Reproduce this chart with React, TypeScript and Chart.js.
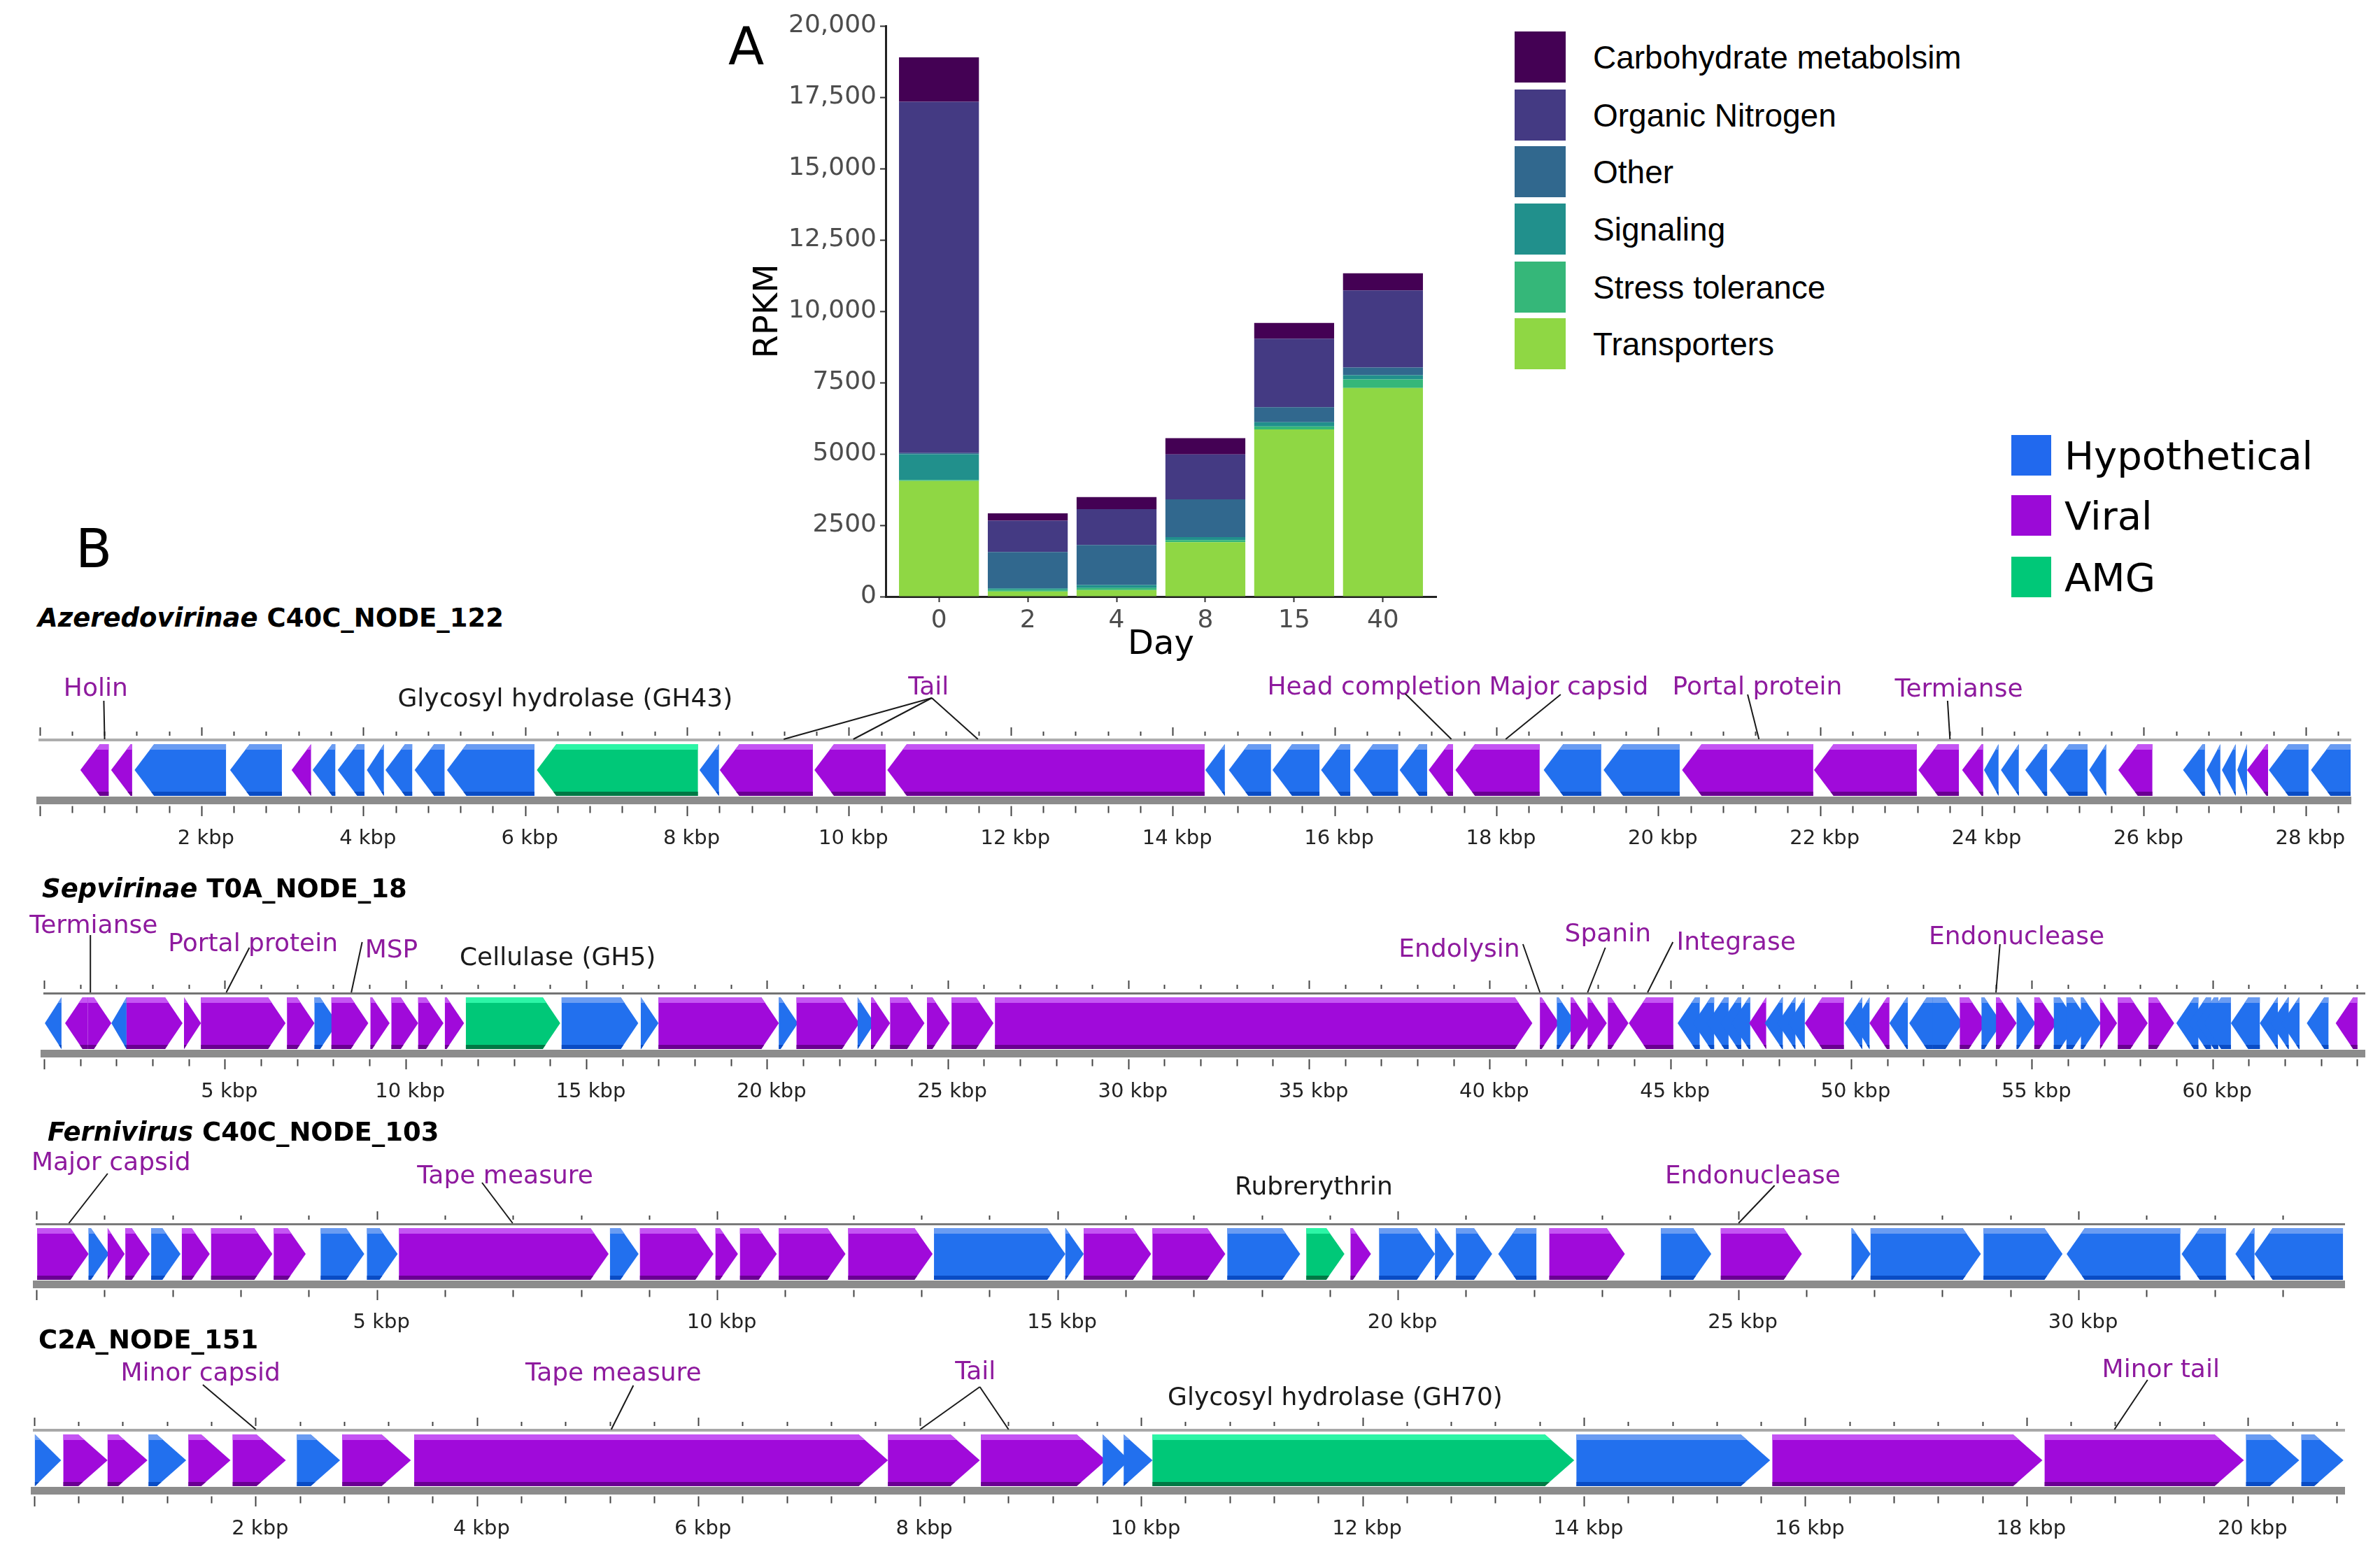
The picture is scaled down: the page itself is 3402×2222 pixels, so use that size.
import React, { useEffect, useRef } from 'react';
import { Chart, registerables } from 'chart.js';

Chart.register(...registerables);

// ---------------- Panel A data ----------------
const days = ['0', '2', '4', '8', '15', '40'];
const seriesNames = ['Transporters', 'Stress tolerance', 'Signaling', 'Other', 'Organic Nitrogen', 'Carbohydrate metabolsim'];
const transporters = [4050, 180, 225, 1905, 5855, 7310];
const stressTolerance = [40, 60, 75, 75, 105, 300];
const signaling = [900, 45, 105, 105, 150, 150];
const other = [40, 1280, 1400, 1320, 525, 270];
const organicNitrogen = [12310, 1095, 1260, 1575, 2400, 2700];
const carbohydrate = [1560, 255, 420, 570, 555, 600];
const yTicks = [0, 2500, 5000, 7500, 10000, 12500, 15000, 17500, 20000];
const seriesColors = ['#8FD744', '#35B779', '#21908C', '#31688E', '#443A83', '#440154'];

// ---------------- Panel B data ----------------
// [start kbp, end kbp, strand, kind]  kind: h = hypothetical, v = viral, a = AMG
type Gene = [number, number, number, string];
type Note = { text: string; kind: string; at: number; from?: number; to: number[] };

const geneKinds = ['h', 'v', 'a'];
const geneKindNames = ['Hypothetical', 'Viral', 'AMG'];

const track1Genes: Gene[] = [
  [0.50, 0.85, -1, 'v'], [0.88, 1.14, -1, 'v'], [1.17, 2.30, -1, 'h'], [2.35, 2.99, -1, 'h'],
  [3.11, 3.35, -1, 'v'], [3.37, 3.65, -1, 'h'], [3.68, 4.01, -1, 'h'], [4.04, 4.25, -1, 'h'],
  [4.27, 4.60, -1, 'h'], [4.63, 5.00, -1, 'h'], [5.03, 6.11, -1, 'h'], [6.14, 8.13, -1, 'a'],
  [8.15, 8.39, -1, 'h'], [8.40, 9.55, -1, 'v'], [9.57, 10.45, -1, 'v'], [10.47, 14.39, -1, 'v'],
  [14.40, 14.64, -1, 'h'], [14.69, 15.21, -1, 'h'], [15.23, 15.81, -1, 'h'], [15.83, 16.19, -1, 'h'],
  [16.23, 16.78, -1, 'h'], [16.80, 17.14, -1, 'h'], [17.16, 17.46, -1, 'v'], [17.49, 18.53, -1, 'v'],
  [18.58, 19.29, -1, 'h'], [19.32, 20.26, -1, 'h'], [20.29, 21.91, -1, 'v'], [21.92, 23.19, -1, 'v'],
  [23.21, 23.71, -1, 'v'], [23.75, 24.01, -1, 'v'], [24.02, 24.20, -1, 'h'], [24.23, 24.45, -1, 'h'],
  [24.53, 24.80, -1, 'h'], [24.83, 25.30, -1, 'h'], [25.32, 25.53, -1, 'h'], [25.68, 26.10, -1, 'v'],
  [26.48, 26.75, -1, 'h'], [26.77, 26.94, -1, 'h'], [26.96, 27.13, -1, 'h'], [27.15, 27.27, -1, 'h'],
  [27.27, 27.53, -1, 'v'], [27.54, 28.03, -1, 'h'], [28.06, 28.55, -1, 'h'],
];
const track1Notes: Note[] = [
  { text: 'Holin', kind: 'v', at: 0.69, from: 0.79, to: [0.80] },
  { text: 'Glycosyl hydrolase (GH43)', kind: 'a', at: 6.49, to: [] },
  { text: 'Tail', kind: 'v', at: 10.98, from: 11.02, to: [9.19, 10.05, 11.59] },
  { text: 'Head completion', kind: 'v', at: 16.49, from: 16.87, to: [17.44] },
  { text: 'Major capsid', kind: 'v', at: 18.89, from: 18.79, to: [18.11] },
  { text: 'Portal protein', kind: 'v', at: 21.22, from: 21.10, to: [21.24] },
  { text: 'Termianse', kind: 'v', at: 23.71, from: 23.57, to: [23.60] },
];

const track2Genes: Gene[] = [
  [0.00, 0.47, -1, 'h'], [0.57, 1.20, -1, 'v'], [1.20, 1.85, 1, 'v'], [1.85, 2.27, -1, 'h'],
  [2.27, 3.82, 1, 'v'], [3.86, 4.33, 1, 'v'], [4.33, 6.67, 1, 'v'], [6.71, 7.47, 1, 'v'],
  [7.47, 8.11, 1, 'h'], [7.94, 8.96, 1, 'v'], [9.02, 9.55, 1, 'v'], [9.60, 10.34, 1, 'v'],
  [10.34, 11.04, 1, 'v'], [11.08, 11.61, 1, 'v'], [11.66, 14.27, 1, 'a'], [14.31, 16.43, 1, 'h'],
  [16.50, 16.99, 1, 'h'], [16.99, 20.32, 1, 'v'], [20.32, 20.85, 1, 'h'], [20.81, 22.55, 1, 'v'],
  [22.50, 22.97, 1, 'h'], [22.87, 23.40, 1, 'v'], [23.40, 24.35, 1, 'v'], [24.42, 25.05, 1, 'v'],
  [25.10, 26.26, 1, 'v'], [26.30, 41.17, 1, 'v'], [41.38, 41.91, 1, 'v'], [41.85, 42.38, 1, 'h'],
  [42.23, 42.77, 1, 'v'], [42.70, 43.23, 1, 'v'], [43.26, 43.83, 1, 'v'], [43.84, 45.07, -1, 'v'],
  [45.19, 45.80, -1, 'h'], [45.62, 46.20, -1, 'h'], [46.00, 46.60, -1, 'h'], [46.38, 46.95, -1, 'h'],
  [46.68, 47.20, -1, 'h'], [47.17, 47.64, -1, 'v'], [47.60, 48.10, -1, 'h'], [47.95, 48.45, -1, 'h'],
  [48.25, 48.71, -1, 'h'], [48.71, 49.79, -1, 'v'], [49.81, 50.30, -1, 'h'], [50.05, 50.50, -1, 'h'],
  [50.50, 51.05, -1, 'v'], [51.05, 51.56, -1, 'h'], [51.60, 52.30, -1, 'h'], [52.25, 53.08, 1, 'h'],
  [53.00, 53.73, 1, 'v'], [53.60, 54.16, 1, 'h'], [54.00, 54.57, 1, 'v'], [54.57, 55.09, 1, 'h'],
  [55.06, 55.68, 1, 'v'], [55.60, 56.25, 1, 'h'], [55.95, 56.60, 1, 'h'], [56.35, 56.90, 1, 'h'],
  [56.88, 57.35, 1, 'v'], [57.37, 58.20, 1, 'v'], [58.22, 58.93, 1, 'v'], [58.99, 59.60, -1, 'h'],
  [59.33, 59.95, -1, 'h'], [59.55, 60.15, -1, 'h'], [59.75, 60.50, -1, 'h'], [60.50, 61.30, -1, 'h'],
  [61.30, 61.80, -1, 'h'], [61.60, 62.10, -1, 'h'], [61.90, 62.40, -1, 'h'], [62.60, 63.20, -1, 'h'],
  [63.40, 64.00, -1, 'v'],
];
const track2Notes: Note[] = [
  { text: 'Termianse', kind: 'v', at: 1.36, from: 1.27, to: [1.27] },
  { text: 'Portal protein', kind: 'v', at: 5.77, from: 5.67, to: [5.03] },
  { text: 'MSP', kind: 'v', at: 9.60, from: 8.79, to: [8.49] },
  { text: 'Cellulase (GH5)', kind: 'a', at: 14.20, to: [] },
  { text: 'Endolysin', kind: 'v', at: 39.15, from: 40.91, to: [41.38] },
  { text: 'Spanin', kind: 'v', at: 43.26, from: 43.19, to: [42.70] },
  { text: 'Integrase', kind: 'v', at: 46.81, from: 45.06, to: [44.36] },
  { text: 'Endonuclease', kind: 'v', at: 54.57, from: 54.11, to: [54.0] },
];

const track3Genes: Gene[] = [
  [0.00, 0.76, 1, 'v'], [0.76, 1.06, 1, 'h'], [1.04, 1.29, 1, 'v'], [1.30, 1.66, 1, 'v'],
  [1.68, 2.11, 1, 'h'], [2.13, 2.54, 1, 'v'], [2.56, 3.46, 1, 'v'], [3.48, 3.95, 1, 'v'],
  [4.17, 4.81, 1, 'h'], [4.85, 5.30, 1, 'h'], [5.32, 8.40, 1, 'v'], [8.42, 8.84, 1, 'h'],
  [8.86, 9.94, 1, 'v'], [9.97, 10.30, 1, 'v'], [10.33, 10.87, 1, 'v'], [10.90, 11.88, 1, 'v'],
  [11.92, 13.16, 1, 'v'], [13.18, 15.11, 1, 'h'], [15.11, 15.38, 1, 'h'], [15.38, 16.37, 1, 'v'],
  [16.39, 17.46, 1, 'v'], [17.49, 18.56, 1, 'h'], [18.65, 19.21, 1, 'a'], [19.30, 19.60, 1, 'v'],
  [19.72, 20.54, 1, 'h'], [20.54, 20.82, 1, 'h'], [20.85, 21.38, 1, 'h'], [21.47, 22.03, -1, 'h'],
  [22.22, 23.33, 1, 'v'], [23.86, 24.60, 1, 'h'], [24.74, 25.93, 1, 'v'], [26.66, 26.94, 1, 'h'],
  [26.94, 28.56, 1, 'h'], [28.60, 29.76, 1, 'h'], [29.82, 31.49, -1, 'h'], [31.51, 32.16, -1, 'h'],
  [32.30, 32.58, -1, 'h'], [32.58, 33.88, -1, 'h'],
];
const track3Notes: Note[] = [
  { text: 'Major capsid', kind: 'v', at: 1.09, from: 1.04, to: [0.47] },
  { text: 'Tape measure', kind: 'v', at: 6.88, from: 6.54, to: [6.99] },
  { text: 'Rubrerythrin', kind: 'a', at: 18.76, to: [] },
  { text: 'Endonuclease', kind: 'v', at: 25.21, from: 25.53, to: [25.0] },
];

const track4Genes: Gene[] = [
  [0.00, 0.24, 1, 'h'], [0.26, 0.66, 1, 'v'], [0.66, 1.02, 1, 'v'], [1.03, 1.37, 1, 'h'],
  [1.39, 1.77, 1, 'v'], [1.79, 2.27, 1, 'v'], [2.37, 2.76, 1, 'h'], [2.78, 3.40, 1, 'v'],
  [3.43, 7.71, 1, 'v'], [7.71, 8.54, 1, 'v'], [8.55, 9.68, 1, 'v'], [9.65, 9.89, 1, 'h'],
  [9.84, 10.10, 1, 'h'], [10.10, 13.91, 1, 'a'], [13.93, 15.68, 1, 'h'], [15.70, 18.14, 1, 'v'],
  [18.16, 19.96, 1, 'v'], [19.98, 20.46, 1, 'h'], [20.48, 20.86, 1, 'h'],
];
const track4Notes: Note[] = [
  { text: 'Minor capsid', kind: 'v', at: 1.50, from: 1.52, to: [2.0] },
  { text: 'Tape measure', kind: 'v', at: 5.23, from: 5.41, to: [5.21] },
  { text: 'Tail', kind: 'v', at: 8.50, from: 8.54, to: [8.0, 8.80] },
  { text: 'Glycosyl hydrolase (GH70)', kind: 'a', at: 11.75, to: [] },
  { text: 'Minor tail', kind: 'v', at: 19.21, from: 19.09, to: [18.79] },
];

const trackGenus = ['Azeredovirinae', 'Sepvirinae', 'Fernivirus', ''];
const trackNames = ['C40C_NODE_122', 'T0A_NODE_18', 'C40C_NODE_103', 'C2A_NODE_151'];
const trackLengths = [28.55, 64.2, 33.9, 20.87];
const trackMinorStep = [0.4, 1, 1, 0.4];
const trackMajorStep = [2, 5, 5, 2];
const trackGenes = [track1Genes, track2Genes, track3Genes, track4Genes];
const trackNotes = [track1Notes, track2Notes, track3Notes, track4Notes];

// ---------------- layout / style (not data) ----------------
// note label rise (cap centre above track top line) and leader-line start rise
const trackNoteRise: [number, number][][] = [
  [[76, 56], [61, 0], [78, 60], [78, 66], [78, 65], [78, 65], [75, 56]],
  [[99, 83], [73, 65], [64, 73], [53, 0], [65, 70], [87, 65], [75, 73], [83, 70]],
  [[90, 72], [71, 59], [55, 0], [71, 55]],
  [[84, 65], [84, 64], [86, 62], [49, 0], [89, 72]],
];
const trackLayout = [
  { T: 1058, left: 57, right: 3360, head: 28, titleLeft: 54, titleY: 883, topLine: '#adadad', topW: 4 },
  { T: 1420, left: 63.6, right: 3380, head: 25, titleLeft: 60, titleY: 1270, topLine: '#737373', topW: 3 },
  { T: 1750, left: 52.7, right: 3351, head: 26, titleLeft: 68, titleY: 1618, topLine: '#7a7a7a', topW: 3 },
  { T: 2045, left: 49.4, right: 3351.4, head: 42, titleLeft: 55, titleY: 1915, topLine: '#a8a8a8', topW: 4 },
];
const geneColors: Record<string, { main: string; light: string; dark: string }> = {
  h: { main: '#2270EE', light: '#6A9CF2', dark: '#0A4CC4' },
  v: { main: '#A00ADA', light: '#C455F3', dark: '#6A0092' },
  a: { main: '#00C878', light: '#2CF5A6', dark: '#007844' },
};
const legendBColors = ['#2169EE', '#9B0AD7', '#00C878'];
const NOTE_PURPLE = '#8E1A9E';
const SANS = '"DejaVu Sans", sans-serif';
const ARIAL = '"Liberation Sans", Arial, sans-serif';

const TRACK_ABOVE = 140;
const TRACK_BOX = 86;
const TRACK_BELOW = 85;
const TRACK_H = TRACK_ABOVE + TRACK_BOX + TRACK_BELOW;

// ---------------- Panel A chart ----------------
function BarChartA() {
  const ref = useRef<HTMLCanvasElement>(null);
  useEffect(() => {
    const series = [transporters, stressTolerance, signaling, other, organicNitrogen, carbohydrate];
    const chart = new Chart(ref.current as HTMLCanvasElement, {
      type: 'bar',
      data: {
        datasets: series.map((vals, k) => ({
          label: seriesNames[k],
          data: vals.map((v, i) => ({ x: i, y: v })),
          backgroundColor: seriesColors[k],
          borderWidth: 0,
          categoryPercentage: 0.9,
          barPercentage: 1,
        })),
      } as any,
      options: {
        animation: false,
        responsive: false,
        maintainAspectRatio: false,
        events: [],
        layout: { padding: { left: 0, right: 17, top: 37, bottom: 0 } },
        plugins: { legend: { display: false }, tooltip: { enabled: false } },
        scales: {
          x: {
            type: 'linear',
            stacked: true,
            min: -0.6,
            max: days.length - 0.4,
            offset: false,
            afterBuildTicks: (s: any) => { s.ticks = days.map((_, i) => ({ value: i })); },
            afterFit: (s: any) => { s.height = 187; },
            ticks: {
              autoSkip: false, maxRotation: 0, minRotation: 0, padding: 5,
              font: { family: SANS, size: 36 }, color: '#4D4D4D',
              callback: (v: any) => days[Math.round(Number(v))] ?? '',
            },
            grid: { display: true, offset: false, drawOnChartArea: false, drawTicks: true, tickLength: 8, tickWidth: 2, tickColor: '#333' },
            border: { display: true, color: '#222', width: 3 },
            title: { display: true, text: 'Day', color: '#000', font: { family: SANS, size: 48 }, padding: { top: 0, bottom: 89 } },
          },
          y: {
            type: 'linear',
            stacked: true,
            min: 0,
            max: 20000,
            afterBuildTicks: (s: any) => { s.ticks = yTicks.map((v) => ({ value: v })); },
            afterFit: (s: any) => { s.width = 266; },
            ticks: {
              padding: 5, font: { family: SANS, size: 36 }, color: '#4D4D4D',
              callback: (v: any) => (Number(v) >= 10000 ? Number(v).toLocaleString('en-US') : String(v)),
            },
            grid: { display: true, drawOnChartArea: false, drawTicks: true, tickLength: 8, tickWidth: 2, tickColor: '#333' },
            border: { display: true, color: '#222', width: 3 },
            title: { display: true, text: 'RPKM', color: '#000', font: { family: SANS, size: 48 }, padding: { top: 70, bottom: 0 } },
          },
        },
      } as any,
    });
    return () => chart.destroy();
  }, []);
  return (
    <canvas ref={ref} width={1070} height={1040}
      style={{ position: 'absolute', left: 1000, top: 0, width: 1070, height: 1040 }} />
  );
}

// ---------------- Panel B track ----------------
function drawGene(ctx: CanvasRenderingContext2D, x0: number, x1: number, top: number, bot: number, strand: number, kind: string, head: number) {
  const w = x1 - x0;
  if (w <= 0) return;
  const h = Math.min(head, w);
  const mid = (top + bot) / 2;
  const c = geneColors[kind] || geneColors.h;
  ctx.save();
  ctx.beginPath();
  if (strand > 0) {
    ctx.moveTo(x0, top); ctx.lineTo(x1 - h, top); ctx.lineTo(x1, mid); ctx.lineTo(x1 - h, bot); ctx.lineTo(x0, bot);
  } else {
    ctx.moveTo(x1, top); ctx.lineTo(x0 + h, top); ctx.lineTo(x0, mid); ctx.lineTo(x0 + h, bot); ctx.lineTo(x1, bot);
  }
  ctx.closePath();
  ctx.clip();
  ctx.fillStyle = c.main;
  ctx.fillRect(x0 - 1, top, w + 2, bot - top);
  ctx.fillStyle = c.light;
  ctx.fillRect(x0 - 1, top, w + 2, 8);
  ctx.fillStyle = c.dark;
  ctx.fillRect(x0 - 1, bot - 6, w + 2, 6);
  ctx.restore();
}

function buildTrackConfig(idx: number) {
  const L = trackLengths[idx];
  const minor = trackMinorStep[idx];
  const major = trackMajorStep[idx];
  const genes = trackGenes[idx];
  const notes = trackNotes[idx];
  const rise = trackNoteRise[idx];
  const lay = trackLayout[idx];
  const tickValues: number[] = [];
  for (let k = 0; k * minor <= L + 1e-9; k++) tickValues.push(Math.round(k * minor * 1000) / 1000);
  const isMajor = (v: number) => Math.abs(v / major - Math.round(v / major)) < 1e-6;
  const setTicks = (s: any) => { s.ticks = tickValues.map((v) => ({ value: v })); };

  const arrowPlugin = {
    id: 'geneArrows' + idx,
    afterDatasetsDraw(chart: any) {
      const meta = chart.getDatasetMeta(0);
      const ctx = chart.ctx as CanvasRenderingContext2D;
      meta.data.forEach((el: any, i: number) => {
        const p = el.getProps(['x', 'base', 'y', 'height'], true);
        const x0 = Math.min(p.base, p.x);
        const x1 = Math.max(p.base, p.x);
        const g = genes[i];
        drawGene(ctx, x0, x1, p.y - p.height / 2, p.y + p.height / 2, g[2], g[3], lay.head);
      });
    },
  };
  const notePlugin = {
    id: 'geneNotes' + idx,
    afterDraw(chart: any) {
      const ctx = chart.ctx as CanvasRenderingContext2D;
      const xs = chart.scales.x;
      const top = chart.chartArea.top;
      ctx.save();
      ctx.font = `36px ${SANS}`;
      ctx.textAlign = 'center';
      ctx.textBaseline = 'alphabetic';
      notes.forEach((n, i) => {
        const [labelRise, lineRise] = rise[i];
        const cx = xs.getPixelForValue(n.at);
        ctx.fillStyle = n.kind === 'a' ? '#1a1a1a' : NOTE_PURPLE;
        ctx.fillText(n.text, cx, top - labelRise + 13);
        if (n.from !== undefined && n.to.length) {
          ctx.strokeStyle = '#1a1a1a';
          ctx.lineWidth = 2;
          const fx = xs.getPixelForValue(n.from);
          n.to.forEach((t) => {
            ctx.beginPath();
            ctx.moveTo(fx, top - lineRise);
            ctx.lineTo(xs.getPixelForValue(t), top - 1);
            ctx.stroke();
          });
        }
      });
      ctx.restore();
    },
  };

  return {
    type: 'bar',
    data: {
      datasets: [{
        data: genes.map((g) => ({ x: [g[0], g[1]], y: 0 })),
        backgroundColor: 'rgba(0,0,0,0)',
        borderWidth: 0,
        barThickness: 74,
      }],
    },
    options: {
      indexAxis: 'y',
      animation: false,
      responsive: false,
      maintainAspectRatio: false,
      events: [],
      layout: { padding: { left: lay.left, right: 3402 - lay.right, top: TRACK_ABOVE - 24, bottom: 0 } },
      plugins: { legend: { display: false }, tooltip: { enabled: false } },
      scales: {
        y: { type: 'linear', min: -1, max: 1, display: false, offset: false },
        x: {
          type: 'linear', position: 'bottom', min: 0, max: L, offset: false,
          afterBuildTicks: setTicks,
          afterFit: (s: any) => { s.height = TRACK_BELOW; },
          ticks: {
            autoSkip: false, maxRotation: 0, minRotation: 0, padding: 15, labelOffset: 6,
            font: { family: SANS, size: 29 }, color: '#222',
            callback: (v: any) => (Number(v) > 0 && isMajor(Number(v)) ? `${Number(v)} kbp` : ''),
          },
          grid: {
            display: true, offset: false, drawOnChartArea: false, drawTicks: true, tickLength: 23, tickWidth: 2, tickColor: '#444',
            tickBorderDash: (c: any) => (c.tick && isMajor(c.tick.value) ? [0, 2.5, 15, 100] : [0, 2.5, 10, 100]),
          },
          border: { display: true, color: '#8c8c8c', width: 11 },
        },
        x2: {
          type: 'linear', axis: 'x', position: 'top', min: 0, max: L, offset: false,
          afterBuildTicks: setTicks,
          afterFit: (s: any) => { s.height = 24; },
          ticks: { display: false },
          grid: {
            display: true, offset: false, drawOnChartArea: false, drawTicks: true, tickLength: 18, tickWidth: 2, tickColor: '#444',
            tickBorderDash: (c: any) => (c.tick && isMajor(c.tick.value) ? [12, 100] : [0, 6, 6, 100]),
          },
          border: { display: true, color: lay.topLine, width: lay.topW },
        },
      },
    },
    plugins: [arrowPlugin, notePlugin],
  };
}

function GenomeTrack({ idx }: { idx: number }) {
  const ref = useRef<HTMLCanvasElement>(null);
  useEffect(() => {
    const chart = new Chart(ref.current as HTMLCanvasElement, buildTrackConfig(idx) as any);
    return () => chart.destroy();
  }, [idx]);
  const top = Math.round(trackLayout[idx].T - TRACK_ABOVE);
  return (
    <canvas ref={ref} width={3402} height={TRACK_H}
      style={{ position: 'absolute', left: 0, top, width: 3402, height: TRACK_H }} />
  );
}

// ---------------- text helpers ----------------
function Txt({ left, cy, size, family, weight, color, children }: any) {
  const k = family === ARIAL ? 0.488 : 0.481;
  return (
    <div style={{
      position: 'absolute', left, top: cy - k * size, fontFamily: family, fontSize: size,
      lineHeight: `${size}px`, fontWeight: weight || 'normal', color: color || '#000', whiteSpace: 'nowrap',
    }}>{children}</div>
  );
}

const legendACenters = [81, 164, 245, 327, 410, 491];
const legendBCenters = [651, 737, 825];

export default function App() {
  const legendANames = [...seriesNames].reverse();
  const legendAColors = [...seriesColors].reverse();
  return (
    <div style={{ position: 'absolute', left: 0, top: 0, width: 3402, height: 2222, background: '#fff', overflow: 'hidden' }}>
      <BarChartA />
      {trackLengths.map((_, i) => <GenomeTrack key={i} idx={i} />)}

      <Txt left={1041} cy={65} size={75} family={SANS}>A</Txt>
      <Txt left={108} cy={784} size={76} family={SANS}>B</Txt>

      {trackNames.map((name, i) => (
        <Txt key={'t' + i} left={trackLayout[i].titleLeft} cy={trackLayout[i].titleY} size={37} family={SANS} weight="bold">
          {trackGenus[i] ? <i>{trackGenus[i]}</i> : null}{trackGenus[i] ? ' ' : ''}{name}
        </Txt>
      ))}

      {legendANames.map((name, i) => (
        <React.Fragment key={'la' + i}>
          <div style={{ position: 'absolute', left: 2165, top: legendACenters[i] - 36.5, width: 73, height: 73, background: legendAColors[i] }} />
          <Txt left={2277} cy={legendACenters[i]} size={46} family={ARIAL}>{name}</Txt>
        </React.Fragment>
      ))}

      {geneKinds.map((k, i) => (
        <React.Fragment key={'lb' + k}>
          <div style={{ position: 'absolute', left: 2875, top: legendBCenters[i] - 29, width: 57, height: 58, background: legendBColors[i] }} />
          <Txt left={2951} cy={legendBCenters[i]} size={56} family={SANS}>{geneKindNames[i]}</Txt>
        </React.Fragment>
      ))}
    </div>
  );
}
